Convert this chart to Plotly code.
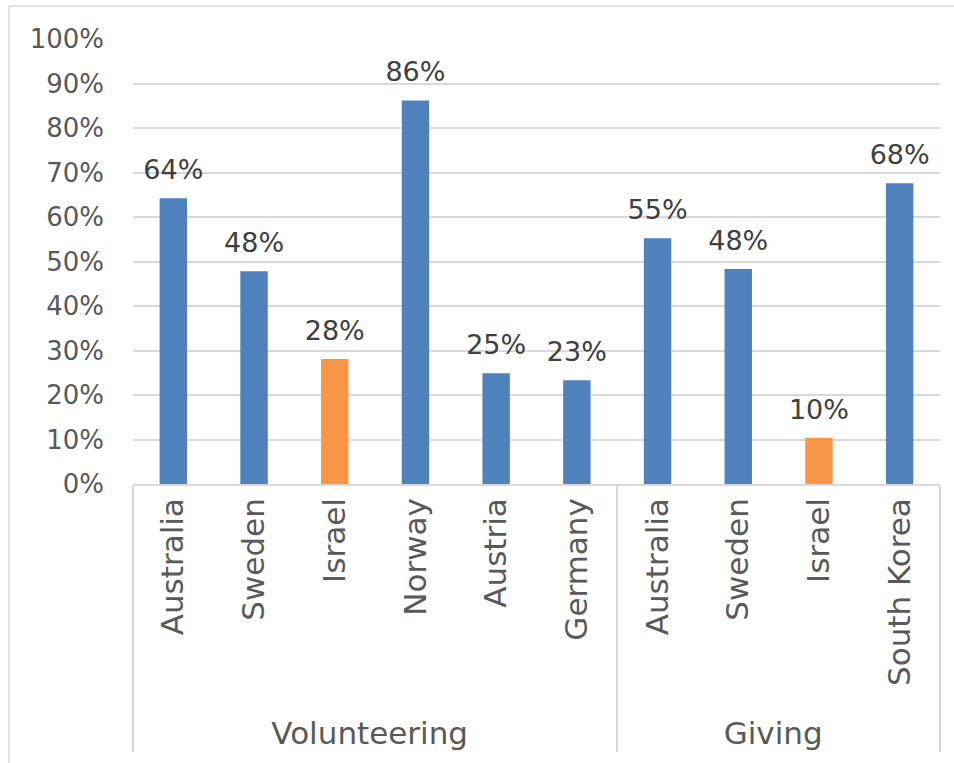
import plotly.graph_objects as go

# Share of people volunteering / giving, by country
groups = ["Volunteering"] * 6 + ["Giving"] * 4
countries = ["Australia", "Sweden", "Israel", "Norway", "Austria", "Germany",
             "Australia", "Sweden", "Israel", "South Korea"]
values = [0.642, 0.478, 0.281, 0.862, 0.249, 0.233,
          0.552, 0.483, 0.104, 0.676]

BLUE = "#4F81BD"
ORANGE = "#F79646"
bar_colors = [ORANGE if c == "Israel" else BLUE for c in countries]

FONT = "DejaVu Sans"
TEXT = "#595959"

fig = go.Figure()
fig.add_trace(
    go.Bar(
        x=[groups, countries],
        y=values,
        marker=dict(color=bar_colors, line=dict(width=0)),
        width=0.34,
        hoverinfo="x+y",
    )
)
# value labels, lifted a little above each bar
fig.add_trace(
    go.Scatter(
        x=[groups, countries],
        y=values,
        mode="markers+text",
        marker=dict(size=18, opacity=0),
        text=[f"{v:.0%}" for v in values],
        textposition="top center",
        textfont=dict(family=FONT, size=27, color="#404040"),
        cliponaxis=False,
        hoverinfo="skip",
    )
)

fig.update_layout(
    width=954,
    height=763,
    margin=dict(l=133, r=14, t=39, b=279),
    paper_bgcolor="white",
    plot_bgcolor="white",
    showlegend=False,
    font=dict(family=FONT, size=31, color=TEXT),
    xaxis=dict(
        type="multicategory",
        range=[-0.5, len(countries) - 0.5],
        tickangle=-90,
        tickfont=dict(family=FONT, size=31, color=TEXT),
        showline=True,
        linecolor="#D9D9D9",
        linewidth=1.5,
        showdividers=True,
        dividercolor="#D9D9D9",
        dividerwidth=1.5,
        ticks="",
    ),
    yaxis=dict(
        range=[0, 1],
        dtick=0.1,
        tickformat=".0%",
        showgrid=True,
        gridcolor="#D9D9D9",
        gridwidth=1.5,
        zeroline=False,
        showline=False,
        ticks="",
        ticklabelstandoff=28,
        tickfont=dict(family=FONT, size=26, color=TEXT),
    ),
    shapes=[
        # outer chart frame
        dict(type="rect", xref="paper", yref="paper",
             x0=-0.1537, x1=1.2, y0=-1.0, y1=1.074,
             line=dict(color="#D9D9D9", width=1.5), layer="below"),
    ],
)

fig.write_html("out.html")
